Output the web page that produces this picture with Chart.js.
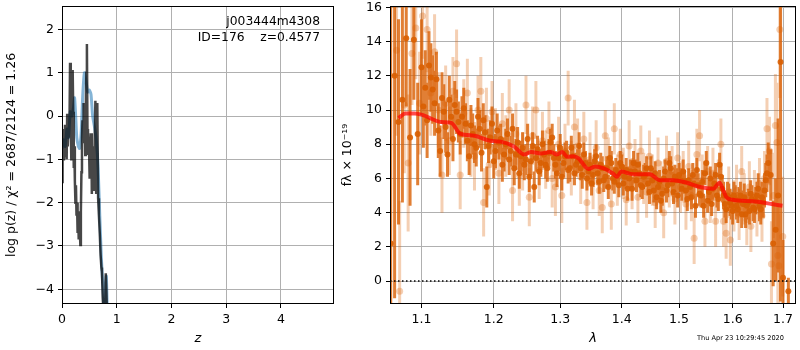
<!DOCTYPE html>
<html>
<head>
<meta charset="utf-8">
<script src="https://cdn.jsdelivr.net/npm/chart.js@4.4.1/dist/chart.umd.min.js"></script>
<style>
  body { margin: 0; background: #fff; }
  #wrap { position: relative; width: 800px; height: 350px; font-family: "DejaVu Sans", sans-serif; }
  #pz-box { position: absolute; left: 0; top: 0; width: 340px; height: 350px; }
  #spec-box { position: absolute; left: 340px; top: 0; width: 460px; height: 350px; }
  .note { position: absolute; color: #000; white-space: pre; }
</style>
</head>
<body>
<div id="wrap">
  <div id="pz-box"><canvas id="pz-chart" width="340" height="350"></canvas></div>
  <div id="spec-box"><canvas id="spec-chart" width="460" height="350"></canvas></div>
  <div class="note" style="left:0; width:320px; top:14px; text-align:right; font-size:12.3px;">j003444m4308</div>
  <div class="note" style="left:0; width:320px; top:30px; text-align:right; font-size:12.3px;">ID=176    z=0.4577</div>
  <div class="note" style="left:697px; top:334px; font-size:6.6px;">Thu Apr 23 10:29:45 2020</div>
</div>
<script>
// p(z) curves (left panel)
const blackZ = [0, 0.004, 0.008, 0.012, 0.018, 0.025, 0.035, 0.045, 0.055, 0.065, 0.075, 0.085, 0.095, 0.105, 0.12,
    0.135, 0.147, 0.16, 0.17, 0.18, 0.195, 0.205, 0.215, 0.225, 0.235, 0.245, 0.255, 0.265, 0.275, 0.285,
    0.295, 0.305, 0.32, 0.335, 0.345, 0.355, 0.365, 0.375, 0.385, 0.395, 0.405, 0.415, 0.425, 0.435, 0.445,
    0.455, 0.465, 0.475, 0.485, 0.495, 0.505, 0.515, 0.525, 0.535, 0.545, 0.555, 0.565, 0.575, 0.585, 0.595,
    0.61, 0.625, 0.645, 0.66, 0.675, 0.69, 0.705, 0.72, 0.73, 0.745, 0.76, 0.785, 0.80, 0.81, 0.825];
const blackLogP = [-0.3, -1.55, -0.35, -1.5, -0.6, -1.0, -0.35, -0.9, -0.2, -0.95, -0.4, -1.0, 0.05, -0.7, -0.1,
    -0.5, 1.23, -0.2, -1.0, -0.1, 1.06, 0.1, -1.2, -0.7, -1.5, -2.0, -1.6, -2.3, -2.0, -2.7,
    -2.2, -2.85, -2.4, -2.98, -2.2, -1.3, -0.5, -0.1, -0.6, 0.3, -0.5, -0.2, -0.9, 0.2, 1.0,
    1.66, -0.3, -0.9, -0.4, -0.8, -1.45, -0.5, -0.9, -0.4, -1.8, -0.7, -1.5, -1.0, -1.7, -0.8,
    0.35, -1.8, 0.3, -1.9, -2.3, -2.7, -3.2, -3.5, -3.6, -4.2, -4.6, -4.6, -3.63, -4.0, -4.7];
const blueZ = [0, 0.03, 0.06, 0.09, 0.12, 0.15, 0.18, 0.21, 0.23, 0.25, 0.27, 0.30, 0.32, 0.35, 0.38, 0.41,
    0.44, 0.47, 0.50, 0.53, 0.56, 0.60, 0.63, 0.66, 0.69, 0.72, 0.75, 0.77, 0.79, 0.81, 0.83];
const blueLogP = [-0.75, -0.55, -0.7, -0.3, -0.5, 0.1, 0.0, 0.2, 0.42, 0.0, -0.5, -0.7, -0.75, -0.4, 0.5, 1.0,
    0.8, 0.55, 0.6, 0.5, 0.0, -0.3, -0.6, -1.2, -2.3, -3.3, -4.0, -4.6, -4.0, -3.7, -4.6];
const zTicks = [0, 1, 2, 3, 4];
const logpTicks = [-4, -3, -2, -1, 0, 1, 2];

// spectrum (right panel): [wavelength, flux, error]
const darkPoints = [
  [1.060, 2.2, 14], [1.065, 12.0, 13], [1.070, 9.3, 6], [1.075, 10.6, 6], [1.080, 14.2, 4], [1.085, 8.4, 4],
  [1.090, 14.1, 3.5], [1.095, 8.6, 3], [1.100, 12.5, 2.8], [1.105, 11.3, 2.2], [1.110, 12.6, 2], [1.115, 11.2, 2],
  [1.120, 11.8, 1.6], [1.125, 7.6, 1.5], [1.130, 9.9, 1.6], [1.135, 7.4, 1.3], [1.140, 9.6, 1.3], [1.145, 10.3, 1.4],
  [1.150, 9.3, 1.2], [1.155, 9.6, 1.2], [1.160, 9.2, 1.2], [1.165, 7.3, 1.1], [1.170, 8.6, 1.2], [1.175, 7.8, 1.1],
  [1.180, 8.9, 1.1], [1.185, 9.4, 1.0], [1.190, 5.5, 1.2], [1.195, 8.4, 1.0], [1.200, 7.0, 1.0], [1.205, 8.8, 1.0],
  [1.210, 8.3, 0.9], [1.215, 7.4, 1.0], [1.220, 8.6, 0.9], [1.225, 7.6, 0.9], [1.230, 6.6, 1.0], [1.235, 8.1, 0.9],
  [1.240, 7.3, 0.9], [1.245, 6.8, 0.9], [1.250, 8.3, 0.9], [1.255, 7.0, 0.8], [1.260, 5.5, 0.9], [1.265, 7.7, 0.8],
  [1.270, 6.9, 0.8], [1.275, 7.4, 0.8], [1.280, 6.6, 0.8], [1.285, 8.1, 0.8], [1.290, 7.2, 0.8], [1.295, 6.3, 0.8],
  [1.300, 7.8, 0.8], [1.305, 6.9, 0.8], [1.310, 7.5, 0.7], [1.315, 6.6, 0.8], [1.320, 7.3, 0.7], [1.325, 6.8, 0.7],
  [1.330, 7.9, 0.8], [1.335, 6.2, 0.8], [1.340, 6.9, 0.7], [1.345, 6.4, 0.7], [1.350, 5.7, 0.7], [1.355, 7.0, 0.7],
  [1.360, 6.3, 0.7], [1.365, 6.8, 0.7], [1.370, 5.9, 0.7], [1.375, 6.6, 0.7], [1.380, 7.2, 0.7], [1.385, 6.0, 0.7],
  [1.390, 6.5, 0.7], [1.395, 5.6, 0.7], [1.400, 6.7, 0.7], [1.405, 6.1, 0.7], [1.410, 5.4, 0.7], [1.415, 6.4, 0.7],
  [1.420, 6.9, 0.7], [1.425, 5.9, 0.7], [1.430, 6.3, 0.7], [1.435, 5.5, 0.7], [1.440, 6.2, 0.7], [1.445, 5.7, 0.7],
  [1.450, 6.6, 0.7], [1.455, 5.3, 0.7], [1.460, 4.9, 0.7], [1.465, 5.8, 0.7], [1.470, 5.1, 0.7], [1.475, 6.4, 0.7],
  [1.480, 5.6, 0.7], [1.485, 6.6, 0.7], [1.490, 5.2, 0.7], [1.495, 5.9, 0.7], [1.500, 6.2, 0.7], [1.505, 5.4, 0.7],
  [1.510, 5.8, 0.7], [1.515, 4.8, 0.7], [1.520, 5.5, 0.7], [1.525, 6.2, 0.7], [1.530, 4.4, 0.7], [1.535, 5.6, 0.7],
  [1.540, 5.0, 0.7], [1.545, 4.4, 0.7], [1.550, 6.9, 0.7], [1.555, 5.2, 0.7], [1.560, 4.5, 0.7], [1.565, 5.7, 0.7],
  [1.570, 5.0, 0.7], [1.575, 6.8, 0.7], [1.580, 5.4, 0.8], [1.585, 4.5, 0.8], [1.590, 5.0, 0.8], [1.595, 4.6, 0.8],
  [1.600, 4.1, 0.8], [1.605, 4.8, 0.8], [1.610, 4.2, 0.8], [1.615, 5.0, 0.8], [1.620, 4.5, 0.8], [1.625, 3.9, 0.8],
  [1.630, 4.6, 0.8], [1.635, 5.1, 0.8], [1.640, 4.3, 0.8], [1.645, 4.7, 0.8], [1.650, 5.4, 0.9], [1.655, 4.2, 0.9],
  [1.660, 4.6, 0.9], [1.665, 5.9, 1.0], [1.670, 6.9, 1.2], [1.675, 6.2, 1.5], [1.680, 2.2, 2.5], [1.685, 3.0, 3.0],
  [1.690, 5.0, 4.5], [1.695, 12.8, 14], [1.700, 0.2, 2.2], [1.711, -0.6, 0.8],
  // second beam, interleaved
  [1.1025, 10.2, 2.4], [1.1075, 9.4, 2.2], [1.1125, 11.9, 2.0], [1.1175, 10.4, 1.9], [1.1225, 8.8, 1.6], [1.1275, 10.7, 1.5],
  [1.1325, 9.0, 1.5], [1.1375, 10.6, 1.4], [1.1425, 8.3, 1.3], [1.1475, 9.9, 1.3], [1.1525, 8.6, 1.2], [1.1575, 10.1, 1.2],
  [1.1625, 8.2, 1.2], [1.1675, 9.1, 1.2], [1.1725, 8.0, 1.1], [1.1775, 9.6, 1.1], [1.1825, 7.5, 1.1], [1.1875, 8.7, 1.0],
  [1.1925, 7.9, 1.0], [1.1975, 9.2, 1.0], [1.2025, 7.6, 1.0], [1.2075, 8.1, 1.0], [1.2125, 6.8, 1.0], [1.2175, 8.0, 0.9],
  [1.2225, 7.1, 0.9], [1.2275, 8.9, 0.9], [1.2325, 7.4, 0.9], [1.2375, 6.3, 0.9], [1.2425, 7.8, 0.9], [1.2475, 7.1, 0.9],
  [1.2525, 6.1, 0.9], [1.2575, 7.9, 0.8], [1.2625, 7.2, 0.8], [1.2675, 6.4, 0.8], [1.2725, 8.0, 0.8], [1.2775, 6.8, 0.8],
  [1.2825, 7.5, 0.8], [1.2875, 8.4, 0.8], [1.2925, 6.8, 0.8], [1.2975, 7.2, 0.8], [1.3025, 6.1, 0.8], [1.3075, 7.3, 0.8],
  [1.3125, 6.5, 0.8], [1.3175, 7.8, 0.7], [1.3225, 6.3, 0.7], [1.3275, 7.0, 0.7], [1.3325, 6.6, 0.7], [1.3375, 7.4, 0.7],
  [1.3425, 6.0, 0.7], [1.3475, 6.8, 0.7], [1.3525, 6.2, 0.7], [1.3575, 7.3, 0.7], [1.3625, 5.8, 0.7], [1.3675, 6.6, 0.7],
  [1.3725, 6.1, 0.7], [1.3775, 5.5, 0.7], [1.3825, 6.9, 0.7], [1.3875, 5.8, 0.7], [1.3925, 6.3, 0.7], [1.3975, 6.9, 0.7],
  [1.4025, 5.7, 0.7], [1.4075, 6.5, 0.7], [1.4125, 6.0, 0.7], [1.4175, 5.4, 0.7], [1.4225, 6.4, 0.7], [1.4275, 6.8, 0.7],
  [1.4325, 5.6, 0.7], [1.4375, 6.1, 0.7], [1.4425, 6.6, 0.7], [1.4475, 5.2, 0.7], [1.4525, 5.9, 0.7], [1.4575, 6.3, 0.7],
  [1.4625, 5.5, 0.7], [1.4675, 4.7, 0.7], [1.4725, 6.0, 0.7], [1.4775, 5.3, 0.7], [1.4825, 6.9, 0.7], [1.4875, 5.7, 0.7],
  [1.4925, 6.1, 0.7], [1.4975, 5.0, 0.7], [1.5025, 5.9, 0.7], [1.5075, 6.4, 0.7], [1.5125, 5.3, 0.7], [1.5175, 5.9, 0.7],
  [1.5225, 4.9, 0.7], [1.5275, 5.7, 0.7], [1.5325, 6.5, 0.7], [1.5375, 5.1, 0.7], [1.5425, 5.8, 0.7], [1.5475, 6.3, 0.7],
  [1.5525, 4.7, 0.7], [1.5575, 6.0, 0.7], [1.5625, 5.4, 0.7], [1.5675, 6.2, 0.7], [1.5725, 4.8, 0.7], [1.5775, 6.1, 0.8],
  [1.5825, 5.0, 0.8], [1.5875, 4.2, 0.8], [1.5925, 4.9, 0.8], [1.5975, 4.4, 0.8], [1.6025, 5.0, 0.8], [1.6075, 4.4, 0.8],
  [1.6125, 4.7, 0.8], [1.6175, 3.9, 0.8], [1.6225, 4.9, 0.8], [1.6275, 4.4, 0.8], [1.6325, 4.1, 0.8], [1.6375, 4.8, 0.8],
  [1.6425, 4.2, 0.8], [1.6475, 5.0, 0.8], [1.6525, 4.4, 0.9], [1.6575, 4.9, 0.9], [1.6625, 5.3, 1.0], [1.6675, 6.3, 1.1]
];
const lightPoints = [
  [1.0675, 13.5, 5], [1.0715, -0.6, 5.3], [1.0775, 10.3, 4], [1.0825, 6.9, 4], [1.0875, 13.3, 3], [1.0925, 14.8, 3],
  [1.0975, 10.4, 3], [1.1015, 15.5, 2.5], [1.1075, 14.7, 2.5], [1.1125, 11.0, 2.5], [1.1175, 13.4, 2.2], [1.1225, 10.0, 2.2],
  [1.1275, 6.2, 2.2], [1.1325, 10.4, 2.2], [1.1375, 8.2, 2.0], [1.1425, 11.1, 2.0], [1.1475, 12.7, 2.0], [1.1525, 6.2, 2.0],
  [1.1575, 9.8, 2.0], [1.1625, 11.0, 2.0], [1.1675, 8.1, 2.0], [1.1725, 7.3, 2.0], [1.1775, 10.0, 2.0], [1.1815, 11.1, 2.0],
  [1.1855, 4.6, 2.0], [1.1895, 9.5, 1.8], [1.1935, 6.8, 1.8], [1.1975, 9.9, 1.8], [1.2025, 8.3, 1.8], [1.2075, 6.3, 1.8],
  [1.2125, 9.2, 1.8], [1.2175, 7.9, 1.8], [1.2225, 10.0, 1.8], [1.2275, 5.3, 1.8], [1.2325, 8.6, 1.8], [1.2375, 6.2, 1.8],
  [1.2425, 7.0, 1.7], [1.2475, 10.3, 1.7], [1.2525, 4.9, 1.7], [1.2575, 8.5, 1.7], [1.2625, 10.0, 1.7], [1.2675, 6.5, 1.7],
  [1.2725, 8.2, 1.7], [1.2775, 7.1, 1.7], [1.2825, 8.8, 1.7], [1.2875, 6.0, 1.7], [1.2925, 5.5, 1.7], [1.2975, 8.0, 1.6],
  [1.3025, 5.0, 1.6], [1.3075, 7.6, 1.6], [1.3125, 10.7, 1.6], [1.3175, 6.6, 1.6], [1.3225, 9.0, 1.6], [1.3275, 7.9, 1.6],
  [1.3325, 6.1, 1.6], [1.3375, 8.3, 1.6], [1.3425, 4.6, 1.6], [1.3475, 7.1, 1.6], [1.3525, 5.8, 1.6], [1.3575, 7.8, 1.6],
  [1.3625, 5.3, 1.5], [1.3675, 4.3, 1.5], [1.3725, 8.5, 1.5], [1.3775, 6.9, 1.5], [1.3825, 4.5, 1.5], [1.3875, 8.9, 1.5],
  [1.3925, 5.9, 1.5], [1.3975, 7.4, 1.5], [1.4025, 6.3, 1.5], [1.4075, 4.75, 1.5], [1.4125, 7.9, 1.5], [1.4175, 5.7, 1.5],
  [1.4225, 6.8, 1.5], [1.4275, 4.9, 1.5], [1.4325, 7.6, 1.5], [1.4375, 6.0, 1.5], [1.4425, 5.2, 1.5], [1.4475, 7.3, 1.5],
  [1.4525, 5.9, 1.5], [1.4575, 4.6, 1.5], [1.4625, 6.9, 1.5], [1.4675, 5.5, 1.5], [1.4725, 4.0, 1.5], [1.4775, 7.0, 1.5],
  [1.4825, 5.8, 1.5], [1.4875, 6.4, 1.5], [1.4925, 4.8, 1.5], [1.4975, 7.2, 1.5], [1.5025, 5.5, 1.5], [1.5075, 6.1, 1.5],
  [1.5125, 4.5, 1.5], [1.5175, 6.7, 1.5], [1.5225, 5.0, 1.5], [1.5275, 2.5, 1.5], [1.5325, 7.4, 1.5], [1.5375, 8.5, 1.5],
  [1.5425, 5.9, 1.5], [1.5475, 3.5, 1.5], [1.5525, 6.4, 1.5], [1.5575, 4.9, 1.5], [1.5625, 6.3, 1.5], [1.5675, 3.5, 1.5],
  [1.5725, 5.6, 1.5], [1.5775, 8.0, 1.5], [1.5825, 3.5, 1.5], [1.5875, 2.8, 1.5], [1.5925, 5.2, 1.5], [1.5955, 2.4, 1.5],
  [1.6025, 4.4, 1.5], [1.6075, 5.3, 1.5], [1.6125, 3.9, 1.5], [1.6175, 6.4, 1.5], [1.6225, 4.8, 1.5], [1.6275, 3.6, 1.5],
  [1.6325, 5.5, 1.5], [1.6355, 3.2, 1.5], [1.6425, 5.0, 1.5], [1.6475, 4.1, 1.5], [1.6525, 5.7, 1.5], [1.6575, 3.8, 1.5],
  [1.6625, 6.0, 1.6], [1.6675, 8.9, 1.8], [1.6725, 7.6, 2.0], [1.6765, 1.0, 2.5], [1.6805, 5.0, 2.5], [1.6845, 9.1, 3.0],
  [1.6875, 8.1, 3.5], [1.6895, 1.5, 3.0], [1.6915, 0.9, 3.0], [1.6935, 14.7, 4.0], [1.6995, 2.6, 3.5]
];
const modelLine = [
  [1.070, 9.52], [1.079, 9.8], [1.091, 9.8], [1.102, 9.7], [1.126, 9.3], [1.140, 9.25], [1.153, 8.6], [1.172, 8.5],
  [1.195, 8.2], [1.210, 8.15], [1.230, 7.85], [1.245, 7.4], [1.255, 7.55], [1.270, 7.46], [1.285, 7.55], [1.295, 7.4],
  [1.303, 7.55], [1.311, 7.27], [1.321, 7.3], [1.329, 7.17], [1.345, 6.55], [1.356, 6.7], [1.369, 6.6], [1.385, 6.3],
  [1.392, 6.1], [1.399, 6.4], [1.419, 6.25], [1.448, 6.25], [1.466, 5.9], [1.489, 5.9], [1.514, 5.75], [1.538, 5.5],
  [1.563, 5.4], [1.575, 5.75], [1.582, 5.3], [1.588, 4.9], [1.600, 4.75], [1.645, 4.65], [1.677, 4.5], [1.699, 4.4]
];
const waveTicks = [1.1, 1.2, 1.3, 1.4, 1.5, 1.6, 1.7];
const fluxTicks = [0, 2, 4, 6, 8, 10, 12, 14, 16];
const waveMin = 1.0591, waveMax = 1.7268;

const FONT = 'DejaVu Sans';
const GRID = '#b0b0b0';
Chart.defaults.font.family = FONT;
Chart.defaults.color = '#000';

const minusFmt = v => (v < 0 ? '\u2212' + Math.abs(v) : String(v));

// matplotlib style box round the axes
const framePlugin = {
    id: 'frame',
    afterDatasetsDraw(chart) {
        const { ctx, chartArea: a } = chart;
        ctx.save();
        ctx.strokeStyle = '#000';
        ctx.lineWidth = 1;
        ctx.strokeRect(Math.round(a.left) + 0.5, Math.round(a.top) + 0.5,
            Math.round(a.right - a.left) - 1, Math.round(a.bottom - a.top) - 1);
        ctx.restore();
    }
};

function fixWidth(w) {
    return scale => { scale.width = w; scale.paddingTop = 0; scale.paddingBottom = 0; };
}
function fixHeight(h) {
    return scale => { scale.height = h; scale.paddingLeft = 0; scale.paddingRight = 0; };
}
function fixedTicks(list) {
    return scale => { scale.ticks = list.map(v => ({ value: v })); };
}

// error bars as broken line segments
function errorSegments(rows) {
    const out = [];
    rows.forEach(([x, y, e]) => {
        out.push({ x: x, y: y - e }, { x: x, y: y + e }, { x: x, y: null });
    });
    return out;
}

new Chart(document.getElementById('pz-chart'), {
    type: 'line',
    data: {
        datasets: [
            {
                data: blackZ.map((z, i) => ({ x: z, y: blackLogP[i] })),
                borderColor: 'rgba(0,0,0,0.72)',
                borderWidth: 2.5,
                pointRadius: 0,
                tension: 0
            },
            {
                data: blueZ.map((z, i) => ({ x: z, y: blueLogP[i] })),
                borderColor: 'rgba(31,119,180,0.55)',
                borderWidth: 3,
                pointRadius: 0,
                tension: 0.2
            }
        ]
    },
    options: {
        responsive: false,
        animation: false,
        events: [],
        layout: { padding: { top: 6, right: 6, left: 0, bottom: 0 } },
        plugins: { legend: { display: false }, tooltip: { enabled: false } },
        scales: {
            x: {
                type: 'linear', min: 0, max: 4.97,
                afterBuildTicks: fixedTicks(zTicks),
                afterFit: fixHeight(46),
                grid: { color: GRID, tickColor: '#000', tickLength: 4 },
                border: { display: false },
                ticks: { font: { size: 12.5 }, padding: 4, callback: v => minusFmt(v) },
                title: { display: true, text: 'z', font: { size: 13, style: 'italic' }, padding: { top: 0, bottom: 4 } }
            },
            y: {
                type: 'linear', min: -4.34, max: 2.54,
                afterBuildTicks: fixedTicks(logpTicks),
                afterFit: fixWidth(62),
                grid: { color: GRID, tickColor: '#000', tickLength: 4 },
                border: { display: false },
                ticks: { font: { size: 12.5 }, padding: 4, callback: v => minusFmt(v) },
                title: { display: true, text: 'log p(z) / \u03c7\u00b2 = 2687/2124 = 1.26', font: { size: 12.5 }, padding: { top: 4, bottom: 0 } }
            }
        }
    },
    plugins: [framePlugin]
});

new Chart(document.getElementById('spec-chart'), {
    type: 'line',
    data: {
        datasets: [
            {
                // zero level
                data: [{ x: waveMin, y: 0 }, { x: waveMax, y: 0 }],
                borderColor: '#000',
                borderWidth: 1.5,
                borderDash: [1.5, 2.5],
                pointRadius: 0
            },
            {
                data: modelLine.map(([x, y]) => ({ x, y })),
                borderColor: 'rgba(255,0,0,0.7)',
                borderWidth: 4,
                pointRadius: 0,
                cubicInterpolationMode: 'monotone'
            },
            {
                data: darkPoints.map(([x, y]) => ({ x, y })),
                showLine: false,
                pointRadius: 3,
                pointBorderWidth: 0,
                pointBackgroundColor: 'rgba(217,95,2,0.9)'
            },
            {
                data: errorSegments(darkPoints),
                borderColor: 'rgba(217,95,2,0.8)',
                borderWidth: 3,
                borderCapStyle: 'butt',
                pointRadius: 0,
                spanGaps: false
            },
            {
                data: lightPoints.map(([x, y]) => ({ x, y })),
                showLine: false,
                pointRadius: 3.5,
                pointBorderWidth: 0,
                pointBackgroundColor: 'rgba(217,95,2,0.3)'
            },
            {
                data: errorSegments(lightPoints),
                borderColor: 'rgba(217,95,2,0.3)',
                borderWidth: 3,
                borderCapStyle: 'butt',
                pointRadius: 0,
                spanGaps: false
            }
        ]
    },
    options: {
        responsive: false,
        animation: false,
        events: [],
        layout: { padding: { top: 6, right: 1, left: 0, bottom: 0 } },
        plugins: { legend: { display: false }, tooltip: { enabled: false } },
        scales: {
            x: {
                type: 'logarithmic', min: waveMin, max: waveMax, bounds: 'data',
                afterBuildTicks: fixedTicks(waveTicks),
                afterFit: fixHeight(46),
                grid: { color: GRID, tickColor: '#000', tickLength: 4 },
                border: { display: false },
                ticks: { font: { size: 12.5 }, padding: 4, autoSkip: false, maxRotation: 0, callback: v => Number(v).toFixed(1) },
                title: { display: true, text: '\u03bb', font: { size: 13, style: 'italic' }, padding: { top: 0, bottom: 4 } }
            },
            y: {
                type: 'linear', min: -1.34, max: 16.08,
                afterBuildTicks: fixedTicks(fluxTicks),
                afterFit: fixWidth(50),
                grid: { color: GRID, tickColor: '#000', tickLength: 4 },
                border: { display: false },
                ticks: { font: { size: 12.5 }, padding: 4, callback: v => minusFmt(v) },
                title: { display: true, text: 'f\u03bb \u00d7 10\u207b\u00b9\u2079', font: { size: 12.5 }, padding: { top: 0, bottom: 0 } }
            }
        }
    },
    plugins: [framePlugin]
});
</script>
</body>
</html>
